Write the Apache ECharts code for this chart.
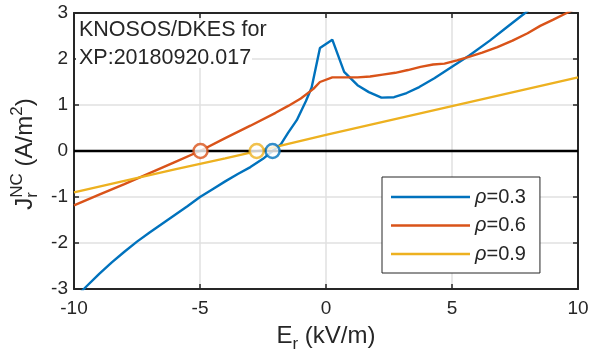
<!DOCTYPE html>
<html>
<head>
<meta charset="utf-8">
<script src="https://cdn.jsdelivr.net/npm/echarts/dist/echarts.min.js"></script>
<style>
  html, body { margin: 0; padding: 0; background: #fff; }
  #chart { width: 592px; height: 356px; }
</style>
</head>
<body>
<div id="chart"></div>
<script>
// Radial non-collisional current density versus radial electric field
const seriesNames = ['ρ=0.3', 'ρ=0.6', 'ρ=0.9'];
const seriesColors = ['#0072BD', '#D95319', '#EDB120'];

const erRho03 = [-10, -9.5, -9, -8.5, -8, -7.5, -7, -6.5, -6, -5.5, -5, -4.5, -4, -3.5, -3, -2.5, -2.12,
  -1.8, -1.5, -1.16, -0.8, -0.57, -0.24, 0.25, 0.72, 1.25, 1.7, 2.2, 2.7, 3.2, 3.7, 4.3, 5, 5.7, 6.5, 7.2, 7.9, 8.5];
const jRho03 = [-3.22, -2.94, -2.67, -2.42, -2.19, -1.97, -1.77, -1.58, -1.39, -1.2, -1.0, -0.83, -0.66, -0.5, -0.35, -0.17, 0,
  0.14, 0.4, 0.67, 1.08, 1.38, 2.24, 2.42, 1.72, 1.43, 1.28, 1.16, 1.17, 1.26, 1.39, 1.58, 1.83, 2.08, 2.4, 2.7, 3.0, 3.28];

const erRho06 = [-10, -9, -8, -7, -6, -5, -4, -3, -2, -1.5, -1.0, -0.5, -0.24, 0.25, 0.75, 1.25, 1.75, 2.25,
  2.75, 3.25, 3.75, 4.25, 4.7, 5.2, 5.7, 6.2, 6.8, 7.4, 8, 8.5, 9, 9.55, 10];
const jRho06 = [-1.18, -0.95, -0.72, -0.48, -0.24, 0, 0.28, 0.55, 0.83, 0.98, 1.14, 1.35, 1.5, 1.6, 1.6, 1.6, 1.62, 1.66,
  1.7, 1.76, 1.83, 1.88, 1.9, 1.97, 2.05, 2.14, 2.26, 2.4, 2.56, 2.72, 2.85, 3.0, 3.12];

const erRho09 = [-10, -8, -6, -4, -2, 0, 2, 4, 6, 8, 10];
const jRho09 = [-0.9, -0.65, -0.4, -0.16, 0.09, 0.35, 0.6, 0.85, 1.1, 1.35, 1.6];

// Ambipolar roots (zero crossings), one per radius
const rootEr = [-2.12, -4.98, -2.75];

const zeroLineEr = [-10, 10];

const xTicks = { min: -10, max: 10, interval: 5 };
const yTicks = { min: -3, max: 3, interval: 1 };

const FONT = '"Liberation Sans", Arial, Helvetica, sans-serif';
const INK = '#262626';

const pairs = (xs, ys) => xs.map((x, i) => [x, ys[i]]);

// text width helper for hand-laid sub/superscript titles
const measureCtx = document.createElement('canvas').getContext('2d');
function textWidth(s, size) {
  measureCtx.font = size + 'px ' + FONT;
  return measureCtx.measureText(s).width;
}

function scriptedTitle(parts) {
  // parts: [{t, size, dy, stack}] ; stack=true means share x with previous part
  const children = [];
  let x = 0, lastX = 0, lastW = 0;
  parts.forEach(p => {
    const w = textWidth(p.t, p.size);
    let px;
    if (p.stack) {
      px = lastX;
      lastW = Math.max(lastW, w);
      x = lastX + lastW;
    } else {
      px = x;
      lastX = x;
      lastW = w;
      x += w;
    }
    children.push({ t: p.t, size: p.size, dy: p.dy, x: px });
  });
  const total = x;
  return children.map(c => ({
    type: 'text',
    style: {
      text: c.t, x: c.x - total / 2, y: c.dy,
      fontSize: c.size, fontFamily: FONT, fill: INK,
      align: 'left', verticalAlign: 'middle'
    }
  }));
}

const chart = echarts.init(document.getElementById('chart'), null, { renderer: 'canvas' });

const lineSeries = [ [erRho03, jRho03], [erRho06, jRho06], [erRho09, jRho09] ].map((d, i) => ({
  name: seriesNames[i],
  type: 'line',
  data: pairs(d[0], d[1]),
  symbol: 'none',
  smooth: false,
  clip: true,
  lineStyle: { color: seriesColors[i], width: 2.4 },
  itemStyle: { color: seriesColors[i] },
  z: 3
}));

const axisCommon = {
  type: 'value',
  axisLine: { show: true, onZero: false, lineStyle: { color: INK, width: 2 } },
  axisTick: { show: true, inside: true, length: 5, lineStyle: { color: INK, width: 1.5 } }
};

chart.setOption({
  animation: false,
  backgroundColor: '#fff',
  grid: { left: 74, right: 14, top: 13, bottom: 67, containLabel: false },
  xAxis: [
    Object.assign({}, axisCommon, {
      position: 'bottom', min: xTicks.min, max: xTicks.max, interval: xTicks.interval,
      splitLine: { show: true, lineStyle: { color: '#e0e0e0', width: 1.5 } },
      axisLabel: { fontSize: 19, fontFamily: FONT, color: INK, margin: 10 }
    }),
    Object.assign({}, axisCommon, {
      position: 'top', min: xTicks.min, max: xTicks.max, interval: xTicks.interval,
      splitLine: { show: false }, axisLabel: { show: false }
    })
  ],
  yAxis: [
    Object.assign({}, axisCommon, {
      position: 'left', min: yTicks.min, max: yTicks.max, interval: yTicks.interval,
      splitLine: { show: true, lineStyle: { color: '#e0e0e0', width: 1.5 } },
      axisLabel: { fontSize: 19, fontFamily: FONT, color: INK, margin: 6 }
    }),
    Object.assign({}, axisCommon, {
      position: 'right', min: yTicks.min, max: yTicks.max, interval: yTicks.interval,
      splitLine: { show: false }, axisLabel: { show: false }
    })
  ],
  legend: {
    data: seriesNames,
    orient: 'vertical',
    left: 382, top: 177,
    icon: 'rect',
    itemWidth: 79, itemHeight: 2.4, itemGap: 8.5,
    padding: [10, 14, 9, 9],
    backgroundColor: '#fff',
    borderColor: INK, borderWidth: 1,
    selectedMode: false,
    formatter: name => '{i|ρ}{n|' + name.slice(1) + '}',
    textStyle: {
      fontSize: 20, fontFamily: FONT, color: INK, lineHeight: 20,
      rich: {
        i: { fontSize: 20, fontFamily: FONT, fontStyle: 'italic', color: INK, lineHeight: 20 },
        n: { fontSize: 20, fontFamily: FONT, color: INK, lineHeight: 20 }
      }
    }
  },
  series: lineSeries.concat([
    {
      type: 'line',
      data: zeroLineEr.map(x => [x, 0]),
      symbol: 'none',
      lineStyle: { color: '#000', width: 2.5 },
      z: 4,
      silent: true
    },
    {
      type: 'scatter',
      data: rootEr.map((x, i) => ({
        value: [x, 0],
        itemStyle: { color: '#fff', borderColor: seriesColors[i], borderWidth: 2.5 }
      })),
      symbol: 'circle',
      symbolSize: 14,
      z: 5,
      silent: true
    }
  ]),
  graphic: [
    {
      type: 'rect', z: 50,
      shape: { x: 76, y: 20, width: 176, height: 48 },
      style: { fill: '#fff' }
    },
    {
      type: 'text', z: 51,
      style: { text: 'KNOSOS/DKES for', x: 79, y: 30, fontSize: 21.5, fontFamily: FONT, fill: INK, align: 'left', verticalAlign: 'middle' }
    },
    {
      type: 'text', z: 51,
      style: { text: 'XP:20180920.017', x: 79, y: 58, fontSize: 21.5, fontFamily: FONT, fill: INK, align: 'left', verticalAlign: 'middle' }
    },
    {
      type: 'group', x: 326, y: 336, z: 51,
      children: scriptedTitle([
        { t: 'E', size: 24, dy: 0 },
        { t: 'r', size: 17, dy: 8 },
        { t: ' (kV/m)', size: 24, dy: 0 }
      ])
    },
    {
      type: 'group', x: 25, y: 154, rotation: Math.PI / 2, z: 51,
      children: scriptedTitle([
        { t: 'J', size: 24, dy: 0 },
        { t: 'r', size: 17, dy: 7 },
        { t: 'NC', size: 17, dy: -8, stack: true },
        { t: ' (A/m', size: 24, dy: 0 },
        { t: '2', size: 17, dy: -8 },
        { t: ')', size: 24, dy: 0 }
      ])
    }
  ]
});
</script>
</body>
</html>
